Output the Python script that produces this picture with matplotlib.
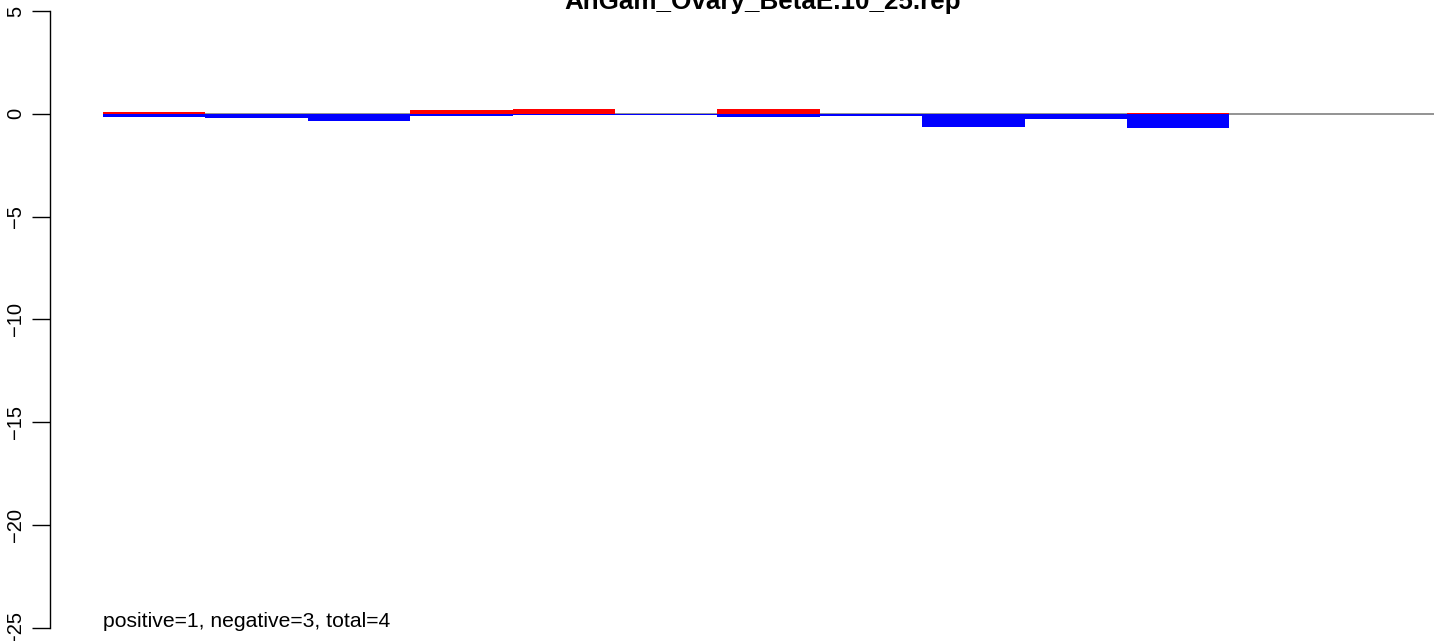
import matplotlib
matplotlib.use("Agg")
import matplotlib.pyplot as plt
import numpy as np

plt.rcParams['font.family'] = ['Liberation Sans', 'DejaVu Sans']

title = "AnGam_Ovary_BetaE.10_25.rep"
note = "positive=1, negative=3, total=4"
positive = [0.10, 0.0, 0.0, 0.17, 0.22, 0.0, 0.22, 0.0, 0.0, 0.0, 0.06, 0.0, 0.0]
negative = [-0.15, -0.22, -0.34, -0.12, -0.07, -0.04, -0.17, -0.12, -0.65, -0.23, -0.70, 0.0, 0.0]
yticks = [5, 0, -5, -10, -15, -20, -25]

W, H = 1444, 641
fig = plt.figure(figsize=(W / 100, H / 100), dpi=100)
ax_left, ax_right = 50, 1444
ax_top, ax_bot = 11, 628
ax = fig.add_axes([ax_left / W, (H - ax_bot) / H, (ax_right - ax_left) / W, (ax_bot - ax_top) / H])

bar_w_px = 102.4
first_px = 103
x0 = -(first_px - ax_left) / bar_w_px
x1 = (ax_right - first_px) / bar_w_px
ax.set_xlim(x0, x1)
ax.set_ylim(-25, 5)

n = len(positive)
x = np.arange(n)
ax.hlines(0, 0, n, color='#808080', lw=1.2, zorder=1)
ax.bar(x, positive, width=1.0, align='edge', color='#FF0000', edgecolor='none', zorder=2)
ax.bar(x, negative, width=1.0, align='edge', color='#0000FF', edgecolor='none', zorder=2)

for s in ['top', 'right', 'bottom']:
    ax.spines[s].set_visible(False)
ax.spines['left'].set_linewidth(1.0)
ax.spines['left'].set_bounds(-25, 5)
ax.set_xticks([])
ax.set_yticks(yticks)
ax.set_yticklabels([str(v).replace('-', '\u2212') for v in yticks], rotation=90, va='center', fontsize=14.5)
ax.tick_params(axis='y', length=13, width=1.0, pad=5)

fig.text(763 / W, 1 - 9 / H, title, ha='center', va='baseline', fontsize=18.7, fontweight='bold')
fig.text(first_px / W, (H - 627) / H, note, ha='left', va='baseline', fontsize=15.2)

fig.savefig("out.png", dpi=100)
